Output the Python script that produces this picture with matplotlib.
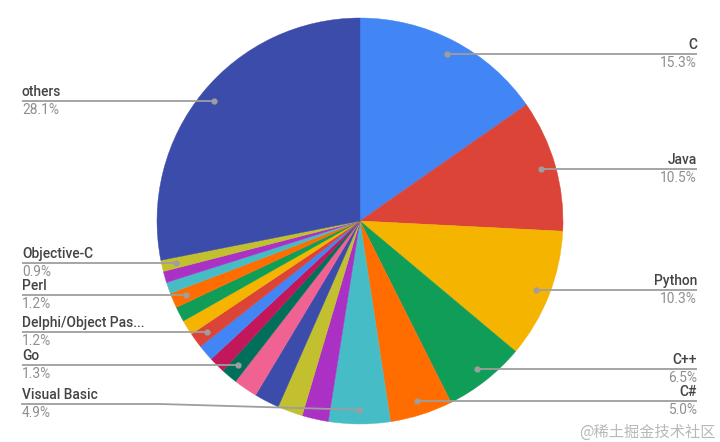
import matplotlib
matplotlib.use("Agg")
import matplotlib.pyplot as plt
import numpy as np

languages = ["C", "Java", "Python", "C++", "C#", "Visual Basic",
             "JavaScript", "PHP", "Assembly language", "SQL", "Go",
             "Classic Visual Basic", "MATLAB", "Delphi/Object Pascal",
             "Ruby", "R", "Perl", "Groovy", "Swift", "Objective-C", "others"]
shares = [15.3, 10.5, 10.3, 6.5, 5.0, 4.9,
          2.1, 2.0, 2.0, 1.9, 1.3,
          1.3, 1.3, 1.2,
          1.2, 1.2, 1.2, 0.9, 0.9, 0.9, 28.1]
colors = ["#4285F4", "#DB4437", "#F4B400", "#0F9D58", "#FF6D00", "#46BDC6",
          "#AB30C4", "#C2C02E", "#3B4CAB", "#F06292", "#00705A",
          "#C2185B", "#4285F4", "#DB4437", "#F4B400", "#0F9D58",
          "#FF6D00", "#46BDC6", "#AB30C4", "#C2C02E", "#3B4CAB"]
right_labels = ["C", "Java", "Python", "C++", "C#"]
left_labels = ["others", "Objective-C", "Perl", "Delphi/Object Pascal", "Go", "Visual Basic"]
display_names = {"Delphi/Object Pascal": "Delphi/Object Pas..."}

W, H = 720, 442
fig = plt.figure(figsize=(W / 100, H / 100), dpi=100)
ax = fig.add_axes([0, 0, 1, 1])

cx, cy_img, R = 360, 221, 203
cy = H - cy_img

wedges, _ = ax.pie(shares, colors=colors, startangle=90, counterclock=False,
                   center=(cx, cy), radius=R, frame=True,
                   wedgeprops=dict(linewidth=0.3, antialiased=True))
for w, c in zip(wedges, colors):
    w.set_edgecolor(c)
ax.set_xlim(0, W)
ax.set_ylim(0, H)
ax.set_aspect("equal")
ax.axis("off")

plt.rcParams["font.family"] = ["Roboto", "DejaVu Sans"]
name_color = "#444444"
pct_color = "#8f8f8f"
line_color = "#9e9e9e"
fs = 9.9

total = sum(shares)
cum = np.cumsum([0] + shares)
for i, lang in enumerate(languages):
    if lang not in right_labels and lang not in left_labels:
        continue
    mid = (cum[i] + shares[i] / 2) / total * 360.0
    th = np.deg2rad(mid)
    dx = 0.93 * R * np.sin(th)
    dy = 0.93 * R * np.cos(th)
    px, py = cx + dx, cy + dy
    py_img = H - py
    ly_img = min(py_img, 404)
    ly = H - ly_img
    name = display_names.get(lang, lang)
    pct = f"{shares[i] / total * 100:.1f}%"
    if lang in right_labels:
        xe = 697
        ax.plot([px, xe], [py, ly], color=line_color, lw=1.3, solid_capstyle="butt", zorder=3)
        ax.text(xe, ly + 2, name, ha="right", va="bottom", fontsize=fs, color=name_color, fontweight="medium")
        ax.text(xe, ly - 2, pct, ha="right", va="top", fontsize=fs, color=pct_color)
    else:
        xs = 22
        if ly_img != py_img:
            ax.plot([xs, 160, px], [ly, ly, py], color=line_color, lw=1.3, zorder=3)
        else:
            ax.plot([xs, px], [ly, py], color=line_color, lw=1.3, solid_capstyle="butt", zorder=3)
        ax.text(xs, ly + 2, name, ha="left", va="bottom", fontsize=fs, color=name_color, fontweight="medium")
        ax.text(xs, ly - 2, pct, ha="left", va="top", fontsize=fs, color=pct_color)
    ax.plot([px], [py], marker="o", markersize=3.5, color=line_color, zorder=4)

ax.text(716, H - 432, "@稀土掘金技术社区", ha="right", va="center", fontsize=11,
        color="#b8b8b8", family=["Noto Sans CJK SC", "DejaVu Sans"])

fig.savefig("out.png", dpi=100, facecolor="white")
